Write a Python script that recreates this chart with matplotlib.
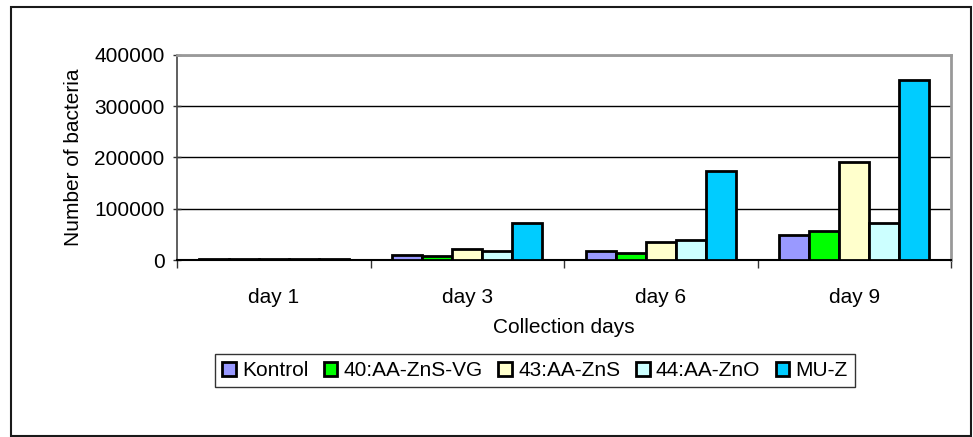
import matplotlib
matplotlib.use("Agg")
import matplotlib.pyplot as plt
import numpy as np
from matplotlib.patches import Rectangle

plt.rcParams['font.family'] = ['Liberation Sans', 'DejaVu Sans']

days = ["day 1", "day 3", "day 6", "day 9"]
series_names = ["Kontrol", "40:AA-ZnS-VG", "43:AA-ZnS", "44:AA-ZnO", "MU-Z"]
kontrol = [1000, 9000, 18000, 49000]
aa_zns_vg = [1200, 8000, 13000, 57000]
aa_zns = [2000, 22000, 35000, 191000]
aa_zno = [1500, 17000, 40000, 73000]
mu_z = [1000, 72000, 174000, 351000]
colors = ["#9999FF", "#00FF00", "#FFFFCC", "#CCFFFF", "#00CCFF"]
y_ticks = [0, 100000, 200000, 300000, 400000]

W, H = 973, 437
FS = 15
fig = plt.figure(figsize=(W / 100, H / 100), dpi=100)

# outer chart frame
fig.patches.append(Rectangle((11 / W, 1 - 436 / H), (971 - 11) / W, (436 - 7) / H,
                             transform=fig.transFigure, fill=False,
                             edgecolor="#1a1a1a", linewidth=1.5))

ax = fig.add_axes([177 / W, 1 - 260 / H, (951 - 177) / W, (260 - 55) / H])

data = [kontrol, aa_zns_vg, aa_zns, aa_zno, mu_z]
x = np.arange(len(days))
bw = 0.155
for i, (vals, c, name) in enumerate(zip(data, colors, series_names)):
    ax.bar(x + (i - 2) * bw, vals, bw, color=c, edgecolor="black",
           linewidth=2, label=name, zorder=3)

ax.set_xlim(-0.5, len(days) - 0.5)
ax.set_ylim(0, 400000)
ax.set_yticks(y_ticks)
ax.set_yticklabels([str(v) for v in y_ticks], fontsize=FS)
ax.yaxis.grid(True, color="black", linewidth=1)
ax.set_axisbelow(True)

ax.set_xticks(x)
ax.set_xticklabels(days, fontsize=FS)
ax.tick_params(axis="x", length=0, pad=20)
ax.set_xticks(np.arange(len(days) + 1) - 0.5, minor=True)
ax.tick_params(axis="x", which="minor", length=6, width=1, direction="out", color="#333333")
ax.tick_params(axis="y", length=6, width=1, direction="inout", color="#333333", pad=6)

for s in ["top", "right"]:
    ax.spines[s].set_color("#999999")
    ax.spines[s].set_linewidth(2)
ax.spines["left"].set_color("#444444")
ax.spines["left"].set_linewidth(1.2)
ax.spines["bottom"].set_color("black")
ax.spines["bottom"].set_linewidth(1.5)

ax.set_ylabel("Number of bacteria", fontsize=FS, labelpad=8)
ax.set_xlabel("Collection days", fontsize=FS, labelpad=8)

leg = fig.legend(loc="center", bbox_to_anchor=(535 / W, 1 - 370.5 / H), ncol=5,
                 fontsize=FS, frameon=True, fancybox=False, handlelength=0.65,
                 handleheight=0.65, handletextpad=0.3, columnspacing=0.75,
                 borderpad=0.35)
leg.get_frame().set_edgecolor("black")
leg.get_frame().set_linewidth(1)

fig.savefig("out.png", dpi=100)
